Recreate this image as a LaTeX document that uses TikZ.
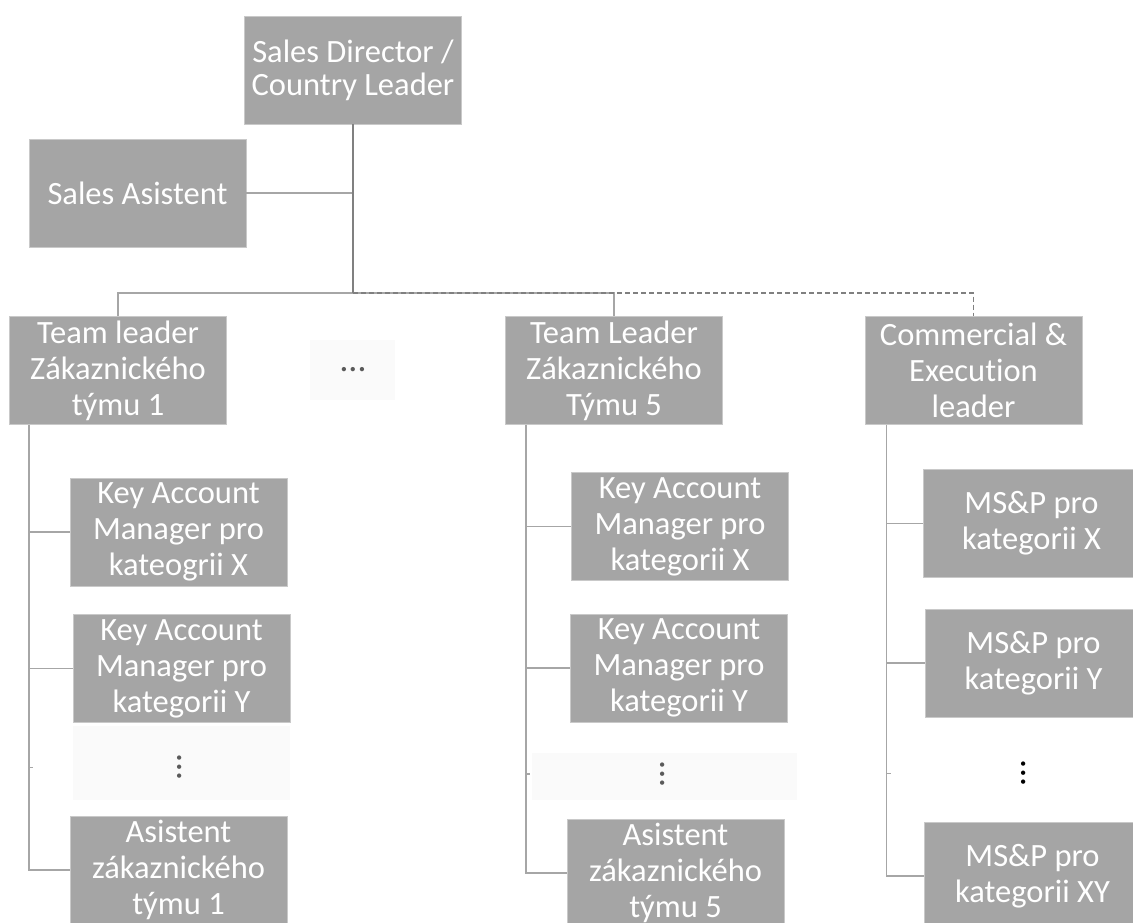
\documentclass[tikz,border=0pt]{standalone}
\usepackage{fontspec}
\setmainfont[Ligatures=CommonOff]{Carlito}
\usetikzlibrary{positioning}
\definecolor{boite}{HTML}{A5A5A5}
\definecolor{bord}{HTML}{C9C9C9}
\definecolor{trait}{HTML}{A6A6A6}
\definecolor{traitfonce}{HTML}{808080}
\definecolor{pale}{HTML}{FAFAFA}
\definecolor{point}{HTML}{5A5A5A}

\begin{document}
\begin{tikzpicture}[x=1pt,y=-1pt,
    poste/.style={rectangle, fill=boite, draw=bord, line width=0.8pt, text=white,
        minimum width=217pt, minimum height=108pt, inner sep=0pt, align=center,
        font=\fontsize{32.5}{36}\selectfont},
    fond/.style={rectangle, fill=pale, draw=none, inner sep=0pt},
    lien/.style={draw=trait, line width=1.5pt},
    points/.style={text=point, inner sep=0pt, font=\fontsize{36}{36}\selectfont}]
    % Dessiner le cadre
    \useasboundingbox (0,0) rectangle (1133,923);
    \fill[white] (0,0) rectangle (1133,923);

    % Dessiner la direction
    \node[poste, font=\fontsize{32.5}{33}\selectfont] (dir) at (353,70) {Sales Director /\\Country Leader};
    \node[poste] (asist) at (137.5,193) {Sales Asistent};

    % Dessiner les chefs d'equipe
    \node[poste] (tl1) at (118,370.5) {Team leader\\Zákaznického\\týmu 1};
    \node[fond, minimum width=85pt, minimum height=60pt] (fb0) at (352.5,370) {};
    \node[points] (d0) at (353,370) {…};
    \node[poste] (tl5) at (614,370.5) {Team Leader\\Zákaznického\\Týmu 5};
    \node[poste] (cel) at (973.5,370.5) {Commercial \&\\Execution\\leader};

    % Dessiner l'equipe 1
    \node[poste] (kx1) at (178.5,532) {Key Account\\Manager pro\\kateogrii X};
    \node[poste] (ky1) at (181.5,668.5) {Key Account\\Manager pro\\kategorii Y};
    \node[fond, minimum width=217pt, minimum height=74pt] (fb1) at (181.5,763) {};
    \node[points, rotate=90] (d1) at (180,767.5) {…};
    \node[poste] (as1) at (178.5,870) {Asistent\\zákaznického\\týmu 1};

    % Dessiner l'equipe 5
    \node[poste] (kx5) at (680,526.5) {Key Account\\Manager pro\\kategorii X};
    \node[poste] (ky5) at (679,668) {Key Account\\Manager pro\\kategorii Y};
    \node[fond, minimum width=265pt, minimum height=47pt] (fb5) at (664.5,776.5) {};
    \node[points, rotate=90] (d5) at (663,774) {…};
    \node[poste] (as5) at (675.5,873) {Asistent\\zákaznického\\týmu 5};

    % Dessiner l'equipe commerciale
    \node[poste] (mx) at (1031.5,523.5) {MS\&P pro\\kategorii X};
    \node[poste] (my) at (1033.5,663) {MS\&P pro\\kategorii Y};
    \node[points, rotate=90, text=black] (d9) at (1024,773.5) {…};
    \node[poste] (mxy) at (1032.5,876) {MS\&P pro\\kategorii XY};

    % Dessiner les liens du haut
    \coordinate (j0) at (dir.south |- 0,293);
    \draw[lien] (asist.east) -- (asist.east -| j0);
    \draw[lien] (tl1.north) |- (j0) -| (tl5.north);
    \draw[lien, draw=traitfonce, dash pattern=on 5pt off 3pt] (j0) -| (cel.north);
    \draw[lien, draw=traitfonce] (dir.south) -- (j0);

    % Dessiner les liens des equipes
    \coordinate (v1) at ([xshift=20pt]tl1.south west);
    \draw[lien] (v1) |- (as1.west);
    \draw[lien] (kx1.west) -- (kx1.west -| v1);
    \draw[lien] (ky1.west) -- (ky1.west -| v1);
    \draw[lien] (d1 -| v1) -- ++(4,0);

    \coordinate (v5) at ([xshift=21pt]tl5.south west);
    \draw[lien] (v5) |- (as5.west);
    \draw[lien] (kx5.west) -- (kx5.west -| v5);
    \draw[lien] (ky5.west) -- (ky5.west -| v5);
    \draw[lien] (d5 -| v5) -- ++(4,0);

    \coordinate (v9) at ([xshift=22pt]cel.south west);
    \draw[lien] (v9) |- (mxy.west);
    \draw[lien] (mx.west) -- (mx.west -| v9);
    \draw[lien] (my.west) -- (my.west -| v9);
    \draw[lien] (d9 -| v9) -- ++(4,0);
\end{tikzpicture}
\end{document}
